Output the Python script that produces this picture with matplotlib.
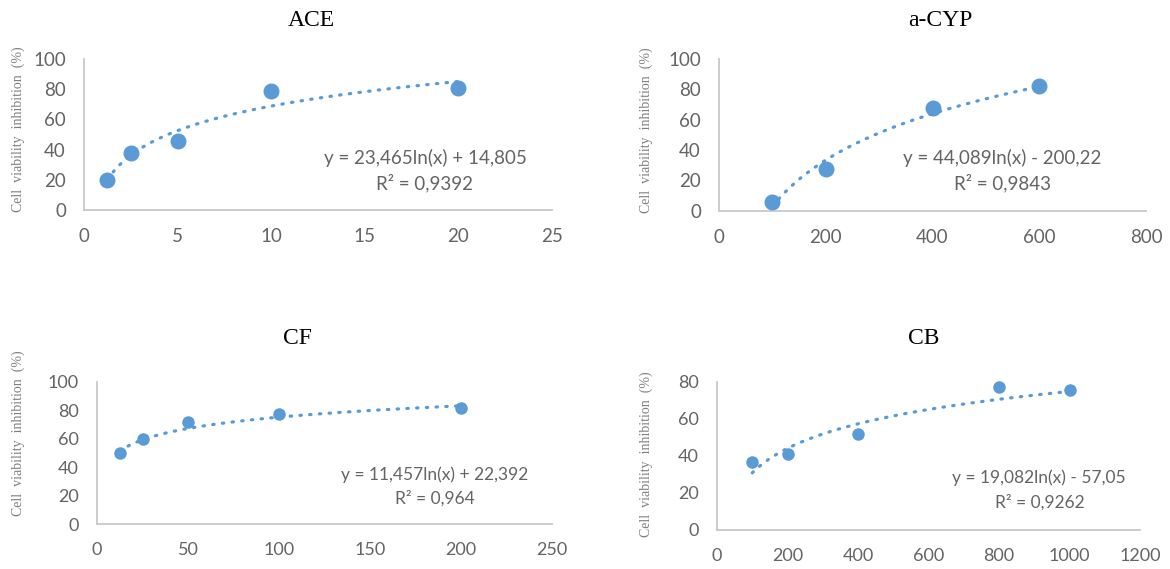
import matplotlib
matplotlib.use("Agg")
import matplotlib.pyplot as plt
import numpy as np

# data
titles = ["ACE", "a-CYP", "CF", "CB"]
ace_x = [1.25, 2.5, 5, 10, 20]
ace_y = [19.7, 37.5, 45.5, 79.0, 81.0]
cyp_x = [100, 200, 400, 600]
cyp_y = [5.5, 27.3, 67.6, 82.4]
cf_x = [12.5, 25, 50, 100, 200]
cf_y = [49.8, 59.8, 71.5, 77.1, 81.3]
cb_x = [100, 200, 400, 800, 1000]
cb_y = [36.5, 41.0, 51.6, 77.0, 75.5]

# log trendline coefficients (slope, intercept) as printed on the chart
slopes = [23.465, 44.089, 11.457, 19.082]
intercepts = [14.805, -200.22, 22.392, -57.05]
eq_labels = ["y = 23,465ln(x) + 14,805", "y = 44,089ln(x) - 200,22",
             "y = 11,457ln(x) + 22,392", "y = 19,082ln(x) - 57,05"]
r2_labels = ["R² = 0,9392", "R² = 0,9843", "R² = 0,964", "R² = 0,9262"]

xlims = [(0, 25), (0, 800), (0, 250), (0, 1200)]
ylims = [(0, 100), (0, 100), (0, 100), (0, 80)]
xticks = [[0, 5, 10, 15, 20, 25], [0, 200, 400, 600, 800],
          [0, 50, 100, 150, 200, 250], [0, 200, 400, 600, 800, 1000, 1200]]
yticks = [[0, 20, 40, 60, 80, 100], [0, 20, 40, 60, 80, 100],
          [0, 20, 40, 60, 80, 100], [0, 20, 40, 60, 80]]

xs = [ace_x, cyp_x, cf_x, cb_x]
ys = [ace_y, cyp_y, cf_y, cb_y]

W, H = 1170, 569
# axes boxes in pixels: left, right, top, bottom
boxes = [(84, 552, 59, 210), (719, 1146, 59, 210.7),
         (97, 552, 381.7, 524.3), (717, 1140, 381.7, 530)]
title_pos = [(311.7, 20), (940, 20), (297.7, 338.3), (923.3, 338.3)]
ylab_pos = [(18, 129), (646.7, 130), (18.3, 433), (646.7, 454)]
eq_pos = [(425, 158.3), (1002, 158.3), (435, 474.3), (1039, 477.7)]
r2_pos = [(425, 182.7), (1003, 182.7), (435, 498.3), (1039.5, 502.3)]
msizes = [10.5, 10.5, 8, 8]
tick_fs = [13.5, 13.5, 13, 13]
eq_fs = [13.5, 13.5, 12.5, 12.5]

blue = "#5B9BD5"
grey = "#646464"

fig = plt.figure(figsize=(W / 100, H / 100), dpi=100)

for i in range(4):
    l, r, t, b = boxes[i]
    ax = fig.add_axes([l / W, 1 - b / H, (r - l) / W, (b - t) / H])
    ax.set_xlim(xlims[i])
    ax.set_ylim(ylims[i])
    ax.set_xticks(xticks[i])
    ax.set_yticks(yticks[i])
    for s in ["top", "right"]:
        ax.spines[s].set_visible(False)
    for s in ["left", "bottom"]:
        ax.spines[s].set_color("#C8C8C8")
        ax.spines[s].set_linewidth(1.3)
    ax.tick_params(length=0, labelsize=tick_fs[i], labelcolor=grey)
    ax.tick_params(axis="x", pad=13)
    ax.tick_params(axis="y", pad=13)
    for lab in ax.get_xticklabels() + ax.get_yticklabels():
        lab.set_family("Lato")
    ax.patch.set_alpha(0)

    x = np.array(xs[i], dtype=float)
    xx = np.linspace(x.min(), x.max(), 200)
    ax.plot(xx, slopes[i] * np.log(xx) + intercepts[i], color=blue, lw=2.3,
            linestyle=(0, (0.45, 2.6)), dash_capstyle="round", zorder=2)
    ax.plot(xs[i], ys[i], "o", color=blue, ms=msizes[i], zorder=3, clip_on=False)

    ex, ey = eq_pos[i]
    rx, ry = r2_pos[i]
    fig.text(ex / W, 1 - ey / H, eq_labels[i], ha="center", va="center",
             fontsize=eq_fs[i], color=grey, family="Lato")
    fig.text(rx / W, 1 - ry / H, r2_labels[i], ha="center", va="center",
             fontsize=eq_fs[i], color=grey, family="Lato")

    tx, ty = title_pos[i]
    fig.text(tx / W, 1 - ty / H, titles[i], ha="center", va="center",
             fontsize=17, family="Liberation Serif", color="black")
    lx, ly = ylab_pos[i]
    fig.text(lx / W, 1 - ly / H, "Cell  viability  inhibition  (%)",
             rotation=90, ha="center", va="center", fontsize=10,
             family="Liberation Serif", color="#7F7F7F")

fig.savefig("out.png", dpi=100)
